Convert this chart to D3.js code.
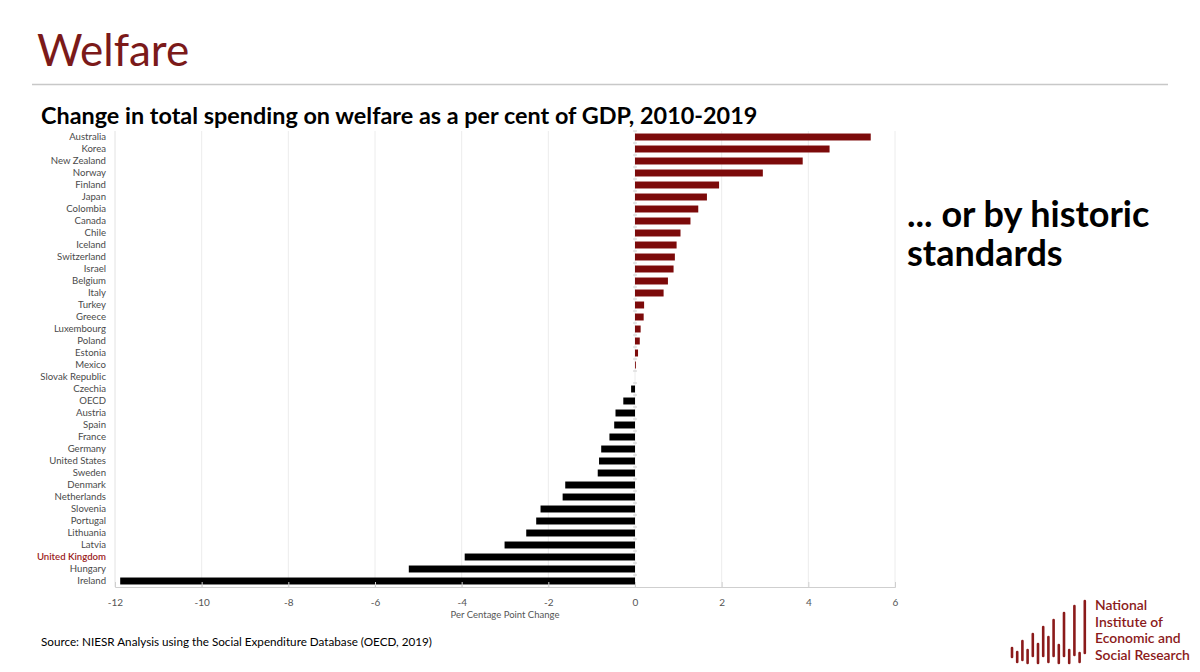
<!DOCTYPE html>
<html>
<head>
<meta charset="utf-8">
<script src="https://cdn.jsdelivr.net/npm/d3@7"></script>
<style>
  body { margin: 0; background: #fff; }
  text { font-family: Lato, "Open Sans", sans-serif; }
</style>
</head>
<body>
<div id="chart"></div>
<script>
// countries, top to bottom
const countries = ["Australia", "Korea", "New Zealand", "Norway", "Finland", "Japan", "Colombia",
  "Canada", "Chile", "Iceland", "Switzerland", "Israel", "Belgium", "Italy", "Turkey", "Greece",
  "Luxembourg", "Poland", "Estonia", "Mexico", "Slovak Republic", "Czechia", "OECD", "Austria",
  "Spain", "France", "Germany", "United States", "Sweden", "Denmark", "Netherlands", "Slovenia",
  "Portugal", "Lithuania", "Latvia", "United Kingdom", "Hungary", "Ireland"];

// change in welfare spending, percentage points of GDP
const changes = [5.44, 4.49, 3.87, 2.95, 1.94, 1.66, 1.46, 1.28, 1.05, 0.96, 0.92, 0.89, 0.76, 0.66,
  0.21, 0.20, 0.13, 0.11, 0.07, 0.02, 0.00, -0.09, -0.27, -0.45, -0.48, -0.59, -0.78, -0.83, -0.86,
  -1.61, -1.67, -2.18, -2.28, -2.51, -3.01, -3.93, -5.22, -11.88];

const xTicks = [-12, -10, -8, -6, -4, -2, 0, 2, 4, 6];

// logo bar spans (top, bottom) in logo-local units
const logoTops = [47, 51, 40, 49, 33, 43, 26, 36, 19, 44, 12, 49, 5, 52, 0];
const logoBottoms = [56, 61, 59, 62, 55, 62, 55, 61, 55, 62, 55, 62, 54, 61, 52];

const logoLines = ["National", "Institute of", "Economic and", "Social Research"];
const noteLines = ["... or by historic", "standards"];

const red = "#7c0a0a";
const W = 1200, H = 672;

const svg = d3.select("#chart").append("svg")
  .attr("width", W)
  .attr("height", H);

// slide heading
svg.append("text")
  .attr("x", 37).attr("y", 66)
  .style("fill", "#7b1a1a")
  .style("font-size", "44px")
  .text("Welfare");

svg.append("line")
  .attr("x1", 32).attr("x2", 1168)
  .attr("y1", 84.5).attr("y2", 84.5)
  .attr("stroke", "#c8c8c8")
  .attr("stroke-width", 1.5);

svg.append("text")
  .attr("x", 41).attr("y", 124)
  .style("fill", "#000")
  .style("font-size", "23.4px")
  .style("font-weight", "bold")
  .text("Change in total spending on welfare as a per cent of GDP, 2010-2019");

const margin = { top: 131, left: 115 };
const width = 780, height = 456;

const g = svg.append("g")
  .attr("transform", `translate(${margin.left}, ${margin.top})`);

const x = d3.scaleLinear()
  .domain([-12, 6])
  .range([0, width]);

const y = d3.scaleBand()
  .domain(countries)
  .range([0, height])
  .paddingInner(0.42)
  .paddingOuter(0.21);

// grid lines
g.selectAll(".grid")
  .data(xTicks)
  .enter()
  .append("line")
  .attr("x1", d => x(d)).attr("x2", d => x(d))
  .attr("y1", 0).attr("y2", height)
  .attr("stroke", "#ececec")
  .attr("stroke-width", 1);

// left edge of plot
g.append("line")
  .attr("x1", 0).attr("x2", 0)
  .attr("y1", 0).attr("y2", height)
  .attr("stroke", "#ececec");

// bars
g.selectAll(".bar")
  .data(countries)
  .enter()
  .append("rect")
  .attr("x", (d, i) => x(Math.min(0, changes[i])))
  .attr("y", d => y(d))
  .attr("width", (d, i) => Math.abs(x(changes[i]) - x(0)))
  .attr("height", y.bandwidth())
  .attr("fill", (d, i) => changes[i] >= 0 ? red : "#000");

// category ticks on the zero line
g.selectAll(".ctick")
  .data(countries)
  .enter()
  .append("line")
  .attr("x1", x(0) - 2).attr("x2", x(0) + 2)
  .attr("y1", d => y(d) - y.step() * 0.21)
  .attr("y2", d => y(d) - y.step() * 0.21)
  .attr("stroke", "#d0d0d0");

// category labels
g.selectAll(".clabel")
  .data(countries)
  .enter()
  .append("text")
  .attr("x", -9)
  .attr("y", d => y(d) + y.bandwidth() / 2)
  .attr("dy", "0.35em")
  .attr("text-anchor", "end")
  .style("fill", d => d === "United Kingdom" ? "#9b1c1c" : "#4a4a4a")
  .style("font-weight", d => d === "United Kingdom" ? "600" : "normal")
  .style("font-size", "9.6px")
  .text(d => d);

// x axis
const xAxis = g.append("g")
  .attr("transform", `translate(0, ${height})`)
  .call(d3.axisBottom(x).tickValues(xTicks).tickSize(-5).tickPadding(12)
    .tickFormat(d => String(d)));

xAxis.select(".domain").attr("stroke", "#cfcfcf");
xAxis.selectAll(".tick line").attr("stroke", "#cfcfcf");
xAxis.selectAll(".tick text")
  .attr("fill", "#555")
  .style("font-family", "Lato, sans-serif")
  .style("font-size", "10px");

g.append("text")
  .attr("x", x(-3))
  .attr("y", height + 31)
  .attr("text-anchor", "middle")
  .style("fill", "#555")
  .style("font-size", "9.5px")
  .text("Per Centage Point Change");

// side note, one text per line
svg.selectAll(".note")
  .data(noteLines)
  .enter()
  .append("text")
  .attr("x", 907)
  .attr("y", (d, i) => 227 + i * 39)
  .style("fill", "#000")
  .style("font-size", "36px")
  .style("font-weight", "bold")
  .text(d => d);

// source
svg.append("text")
  .attr("x", 41).attr("y", 646)
  .style("fill", "#000")
  .style("font-size", "11.7px")
  .text("Source: NIESR Analysis using the Social Expenditure Database (OECD, 2019)");

// logo
const logo = svg.append("g").attr("transform", "translate(1012, 601)");
logo.selectAll("line")
  .data(logoTops)
  .enter()
  .append("line")
  .attr("x1", (d, i) => i * 5.2).attr("x2", (d, i) => i * 5.2)
  .attr("y1", d => d)
  .attr("y2", (d, i) => logoBottoms[i])
  .attr("stroke", "#8b1a1a")
  .attr("stroke-width", 2.6)
  .attr("stroke-linecap", "round");

const logoText = svg.append("text")
  .style("fill", "#8b1a1a")
  .style("font-size", "13.9px")
  .style("font-weight", "600");
logoLines.forEach((t, i) => {
  logoText.append("tspan").attr("x", 1095).attr("y", 610 + i * 16.5).text(t);
});
</script>
</body>
</html>
